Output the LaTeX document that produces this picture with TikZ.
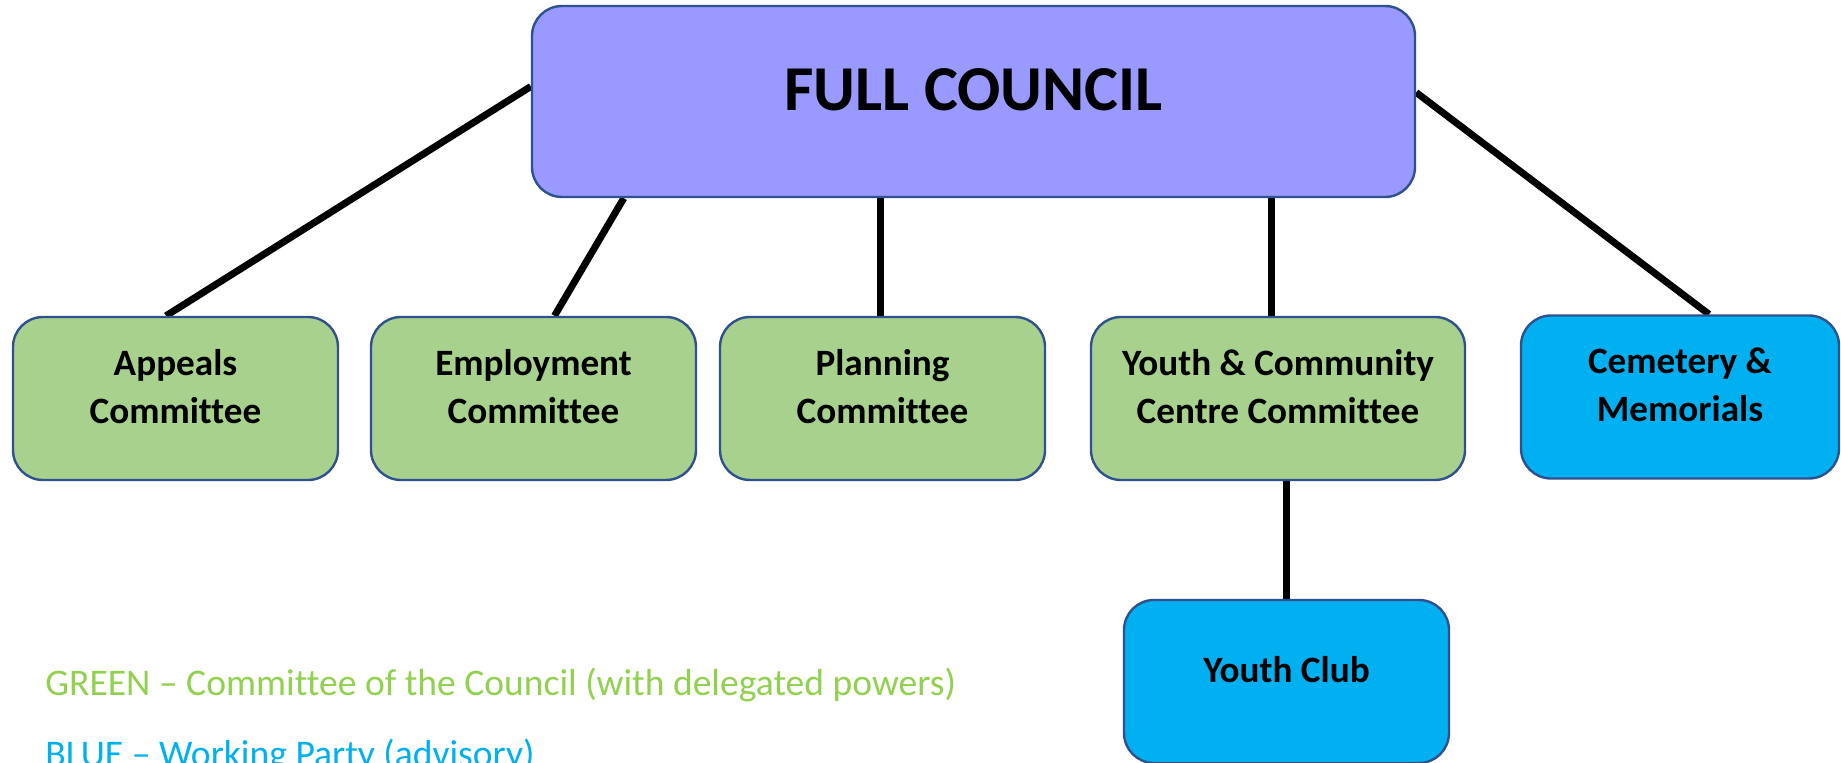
\documentclass[tikz,border=0pt]{standalone}
\usepackage{fontspec}
\setmainfont{Carlito}[Ligatures=NoCommon]
\usetikzlibrary{calc,backgrounds}
\definecolor{fcfill}{RGB}{153,153,255}
\definecolor{grfill}{RGB}{169,209,142}
\definecolor{blfill}{RGB}{0,176,240}
\definecolor{edgeblue}{RGB}{47,82,143}
\definecolor{lgreen}{RGB}{146,208,80}
\definecolor{lblue}{RGB}{0,176,240}
\tikzset{
  box/.style={draw=edgeblue, line width=1.2pt, rounded corners=15pt, align=center,
    font=\fontsize{18.6}{24}\selectfont\bfseries, text depth=12pt, inner sep=0pt,
    minimum height=81.5pt},
  gbox/.style={box, fill=grfill},
  bbox/.style={box, fill=blfill},
  conn/.style={line width=3.5pt, black},
  legend/.style={anchor=base west, inner sep=0pt, font=\fontsize{18.8}{22}\selectfont}
}
\begin{document}
\begin{tikzpicture}[x=0.5pt, y=-0.5pt]
\clip (0,0) rectangle (1841,763);
\node[draw=edgeblue, line width=1.2pt, fill=fcfill, rounded corners=15pt, inner sep=0pt,
  minimum width=441.5pt, minimum height=95.5pt, text depth=11.5pt,
  font=\fontsize{32}{36}\selectfont\bfseries] (fc) at (973.5,101.5) {FULL COUNCIL};
\node[gbox, minimum width=162.5pt] (ap) at (175.5,398.5) {Appeals\\Committee};
\node[gbox, minimum width=162.5pt] (em) at (533.5,398.5) {Employment\\Committee};
\node[gbox, minimum width=162.5pt] (pl) at (882.5,398.5) {Planning\\Committee};
\node[gbox, minimum width=187pt] (yc) at (1278,398.5) {Youth \& Community\\Centre Committee};
\node[bbox, minimum width=159pt] (ce) at (1680,397) {Cemetery \&\\Memorials};
\node[bbox, minimum width=162.5pt] (yclub) at (1286.5,681.5) {Youth Club};
\begin{scope}[on background layer]
\draw[conn] ($(fc.west)+(0,-15)$) -- ($(ap.north)+(-9.5,0)$);
\draw[conn] ($(fc.south west)+(93,0)$) -- ($(em.north)+(21,0)$);
\draw[conn] ($(pl.north)+(-2,0)$) -- ($(pl.north |- fc.south)+(-2,0)$);
\draw[conn] ($(yc.north)+(-7,0)$) -- ($(yc.north |- fc.south)+(-7,0)$);
\draw[conn] ($(fc.east)+(0,-9)$) -- ($(ce.north)+(29,0)$);
\draw[conn] (yclub.north) -- (yclub.north |- yc.south);
\end{scope}
\node[legend, text=lgreen] (lg1) at (45,696) {GREEN – Committee of the Council (with delegated powers)};
\node[legend, text=lblue] (lg2) at (45,766) {BLUE – Working Party (advisory)};
\end{tikzpicture}
\end{document}
